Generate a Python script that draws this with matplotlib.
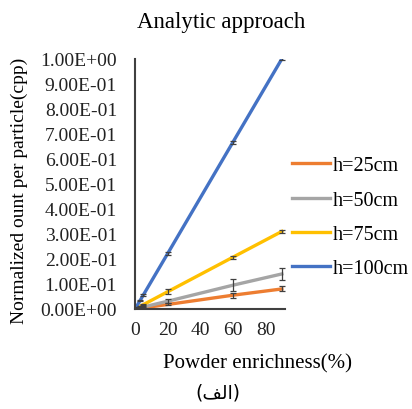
import matplotlib
matplotlib.use('Agg')
import matplotlib.pyplot as plt
from matplotlib.ticker import FuncFormatter

plt.rcParams['font.family'] = ['Liberation Serif', 'DejaVu Serif']

# enrichment values (%)
enrichment = [0.7, 3, 5, 20, 60, 90]

labels = ['h=25cm', 'h=50cm', 'h=75cm', 'h=100cm']
colors = ['#ED7D31', '#A5A5A5', '#FFC000', '#4472C4']

h25 = [0.0006, 0.0027, 0.0045, 0.018, 0.055, 0.080]
h50 = [0.0011, 0.0047, 0.0078, 0.031, 0.095, 0.140]
h75 = [0.0024, 0.0103, 0.0172, 0.069, 0.207, 0.310]
h100 = [0.0078, 0.0333, 0.0556, 0.222, 0.667, 1.000]

err25 = [0.001, 0.002, 0.002, 0.004, 0.010, 0.010]
err50 = [0.001, 0.002, 0.003, 0.008, 0.025, 0.025]
err75 = [0.001, 0.003, 0.003, 0.010, 0.006, 0.006]
err100 = [0.002, 0.003, 0.004, 0.006, 0.006, 0.006]

series = [h25, h50, h75, h100]
errors = [err25, err50, err75, err100]

fig = plt.figure(figsize=(4.12, 4.10), dpi=100)
ax = fig.add_axes([0.328, 0.244, 0.364, 0.610])

for vals, errs, c, lab in zip(series, errors, colors, labels):
    ax.plot(enrichment, vals, color=c, lw=2.4, label=lab, zorder=2)
    ax.errorbar(enrichment, vals, yerr=errs, fmt='none', ecolor='#404040',
                elinewidth=0.9, capsize=2.5, capthick=0.9, zorder=3)

ax.set_xlim(0, 92)
ax.set_ylim(0, 1.0)
ax.set_xticks([0, 20, 40, 60, 80])
ax.set_yticks([i / 10 for i in range(11)])
ax.yaxis.set_major_formatter(FuncFormatter(lambda v, p: '{:.2E}'.format(v)))
ax.tick_params(length=0, labelsize=14, colors='#222222')
ax.tick_params(axis='y', pad=13)
ax.tick_params(axis='x', pad=9)

for side in ['top', 'right']:
    ax.spines[side].set_visible(False)
for side in ['left', 'bottom']:
    ax.spines[side].set_color('#404040')
    ax.spines[side].set_linewidth(1.5)

ax.set_title('Analytic approach', fontsize=16.5, x=0.573, pad=23)
ax.set_xlabel('Powder enrichness(%)', fontsize=15)
ax.xaxis.set_label_coords(0.813, -0.178)
ax.set_ylabel('Normalized ount per particle(cpp)', fontsize=14)
ax.yaxis.set_label_coords(-0.713, 0.476)

fig.legend(loc='center left', bbox_to_anchor=(0.709, 0.468), frameon=False,
           fontsize=14.5, handlelength=1.9, handletextpad=0.1,
           labelspacing=0.75, borderpad=0, borderaxespad=0)

# caption written in visual order with Arabic presentation forms
fig.text(0.529, 0.041, '(\uFED2\uFEDF\uFE8D)', ha='center', va='center',
         fontsize=13.5, family=['DejaVu Sans'])

fig.savefig('out.png', dpi=100)
